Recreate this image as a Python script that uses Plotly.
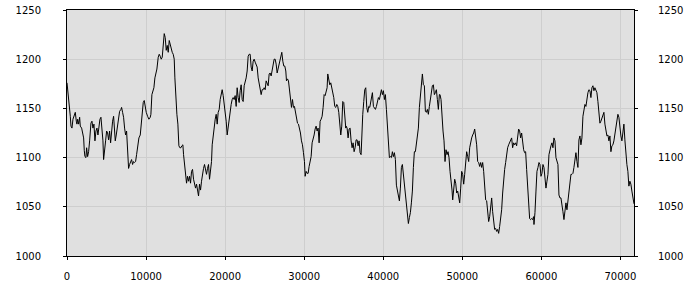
import plotly.graph_objects as go

x_vals = [
    0, 165, 291, 417, 502, 628, 754, 923, 1049, 1176, 1260, 1344, 1471, 1597, 1681, 1850, 1976, 2103, 2187, 2271,
    2397, 2482, 2608, 2734, 2861, 3029, 3156, 3282, 3409, 3535, 3661, 3788, 3914, 4041, 4167, 4293, 4420, 4546, 4630, 4757,
    4883, 5010, 5136, 5262, 5389, 5515, 5641, 5768, 5894, 5979, 6105, 6231, 6400, 6526, 6653, 6821, 6905, 7032, 7158, 7285,
    7411, 7537, 7664, 7790, 7917, 8043, 8169, 8296, 8422, 8549, 8675, 8801, 8928, 9096, 9265, 9391, 9518, 9644, 9770, 9897,
    10023, 10192, 10360, 10529, 10613, 10739, 10866, 10992, 11118, 11245, 11371,
    11540, 11666, 11793, 11919, 12046, 12172, 12298, 12425, 12551, 12678, 12804, 12930, 13057, 13183, 13309, 13436, 13562, 13647, 13773, 13899,
    14026, 14152, 14278, 14405, 14531, 14658, 14742, 14868, 14995, 15121, 15247, 15374, 15500, 15627, 15753, 15879, 16006, 16132, 16259, 16385,
    16511, 16638, 16764, 16891, 17017, 17143, 17270, 17396, 17522, 17649, 17775, 17902, 18028, 18154, 18281, 18365, 18491, 18618, 18744, 18871,
    18997, 19123, 19250, 19376, 19503, 19629, 19755, 19882, 20008, 20135, 20261, 20387, 20514, 20640, 20766, 20893, 21019, 21146, 21272, 21398,
    21525, 21651, 21778, 21904, 22030, 22157, 22283, 22410, 22536, 22662, 22789, 22915, 23041, 23168, 23294,
    23422, 23548, 23675, 23801, 23928, 24054, 24180, 24307, 24433, 24560, 24686, 24812, 24939, 25065, 25191, 25318, 25444, 25571, 25697, 25823,
    25950, 26076, 26203, 26329, 26455, 26582, 26708, 26835, 26961, 27087, 27172, 27298, 27424, 27551, 27677, 27761, 27888, 28014, 28141, 28267,
    28393, 28520, 28646, 28772, 28899, 29025, 29152, 29278, 29404, 29531, 29657, 29784, 29910, 30036, 30121, 30247, 30373, 30500, 30626, 30753,
    30879, 31005, 31132, 31258, 31385, 31511, 31637, 31764, 31890, 32016, 32143, 32269, 32396, 32522, 32648, 32775, 32901, 32985, 33112, 33238,
    33365, 33491, 33617, 33744, 33870, 33997, 34123, 34249, 34376, 34502, 34629, 34755, 34881, 35008, 35134, 35261,
    35304, 35430, 35557, 35683, 35810, 35936, 36062, 36189, 36315, 36442, 36568, 36694, 36821, 36947, 37073, 37200, 37284, 37411, 37537, 37663,
    37790, 37916, 38042, 38169, 38295, 38422, 38548, 38632, 38759, 38885, 39011, 39138, 39264, 39391, 39517, 39643, 39770, 39896, 40023, 40149,
    40275, 40402, 40528, 40655, 40781, 40907, 41034, 41160, 41286, 41413, 41539, 41666, 41792, 41918, 42045, 42171, 42298, 42424, 42550, 42677,
    42803, 42929, 43056, 43182, 43309, 43435, 43561, 43688, 43814, 43941, 44067, 44193, 44320, 44446, 44573, 44699, 44825, 44952, 45078, 45205,
    45331, 45457, 45584, 45710, 45836, 45963, 46089, 46216, 46342, 46468, 46595, 46721, 46848, 46974, 47100,
    47185, 47311, 47438, 47564, 47691, 47817, 47943, 48070, 48196, 48323, 48449, 48575, 48702, 48786, 48912, 49039, 49165, 49292, 49418, 49544,
    49671, 49797, 49924, 50050, 50176, 50303, 50429, 50555, 50682, 50808, 50935, 51061, 51187, 51314, 51440, 51567, 51693, 51819, 51946, 52072,
    52198, 52325, 52451, 52578, 52704, 52830, 52957, 53083, 53210, 53336, 53462, 53589, 53715, 53841, 53968, 54094, 54221, 54347, 54473, 54600,
    54726, 54853, 54979, 55105, 55232, 55358, 55485, 55611, 55737, 55864, 55990, 56116, 56243, 56369, 56496, 56622, 56748, 56875, 57001, 57128,
    57254, 57380, 57507, 57633, 57760, 57886, 58012, 58139, 58265, 58392, 58518, 58644, 58771, 58897, 59024,
    59067, 59193, 59320, 59446, 59573, 59699, 59825, 59952, 60078, 60204, 60331, 60457, 60584, 60710, 60836, 60963, 61089, 61216, 61342, 61468,
    61595, 61721, 61847, 61974, 62100, 62227, 62353, 62479, 62606, 62732, 62859, 62985, 63111, 63238, 63364, 63491, 63617, 63743, 63870, 63996,
    64122, 64249, 64375, 64502, 64628, 64754, 64881, 65007, 65134, 65260, 65386, 65513, 65639, 65765, 65892, 66018, 66145, 66271, 66397, 66524,
    66650, 66777, 66903, 67029, 67156, 67282, 67408, 67535, 67661, 67788, 67914, 68040, 68167, 68293, 68420, 68546, 68672, 68799, 68925, 69052,
    69178, 69304, 69431, 69557, 69683, 69810, 69936, 70063, 70189, 70315, 70442, 70568, 70695, 70821, 70947, 71074, 71200, 71326, 71453, 71579,
    71720,
]

y_vals = [
    1176, 1164, 1151, 1142, 1132, 1130, 1139, 1145, 1146, 1137, 1134, 1139, 1134, 1141, 1132, 1130, 1125, 1120, 1107, 1101,
    1100, 1110, 1101, 1106, 1117, 1135, 1137, 1130, 1134, 1117, 1127, 1130, 1123, 1134, 1139, 1141, 1129, 1117, 1098, 1105,
    1117, 1127, 1125, 1118, 1127, 1115, 1130, 1137, 1142, 1127, 1117, 1123, 1134, 1144, 1147, 1149, 1151, 1146, 1141, 1130,
    1123, 1127, 1113, 1089, 1093, 1096, 1098, 1093, 1096, 1095, 1096, 1103, 1113, 1120, 1123, 1134, 1147, 1156, 1158, 1151,
    1146, 1142, 1139, 1141, 1144, 1164, 1168, 1171, 1181, 1185, 1190,
    1202, 1205, 1203, 1200, 1202, 1212, 1226, 1222, 1209, 1214, 1207, 1219, 1215, 1209, 1207, 1205, 1200, 1181, 1159, 1144,
    1134, 1112, 1110, 1110, 1112, 1113, 1103, 1095, 1088, 1074, 1081, 1076, 1081, 1074, 1086, 1088, 1078, 1074, 1069, 1073,
    1066, 1061, 1073, 1067, 1076, 1086, 1089, 1093, 1088, 1083, 1089, 1093, 1078, 1086, 1096, 1113, 1122, 1134, 1139, 1144,
    1134, 1146, 1149, 1159, 1166, 1169, 1163, 1156, 1146, 1137, 1123, 1132, 1141, 1149, 1154, 1159, 1161, 1159, 1163, 1152,
    1171, 1161, 1156, 1168, 1174, 1159, 1157, 1173, 1176, 1181, 1188, 1203, 1205, 1205, 1192,
    1188, 1198, 1200, 1197, 1193, 1192, 1181, 1174, 1166, 1164, 1169, 1169, 1171, 1169, 1178, 1176, 1173, 1185, 1186, 1183,
    1190, 1195, 1200, 1200, 1195, 1186, 1190, 1195, 1200, 1203, 1207, 1198, 1193, 1193, 1188, 1178, 1180, 1178, 1166, 1156,
    1151, 1159, 1151, 1152, 1146, 1137, 1135, 1134, 1130, 1125, 1117, 1113, 1105, 1096, 1081, 1086, 1084, 1084, 1091, 1098,
    1101, 1115, 1118, 1123, 1129, 1132, 1127, 1130, 1115, 1137, 1139, 1142, 1151, 1164, 1163, 1166, 1171, 1185, 1181, 1174,
    1176, 1171, 1169, 1161, 1152, 1151, 1154, 1152, 1146, 1132, 1123, 1132, 1157, 1156, 1141, 1130,
    1132, 1130, 1120, 1129, 1130, 1117, 1110, 1115, 1106, 1110, 1118, 1118, 1112, 1117, 1105, 1103, 1127, 1144, 1157, 1169,
    1171, 1151, 1146, 1152, 1151, 1157, 1159, 1166, 1152, 1151, 1149, 1152, 1156, 1161, 1159, 1166, 1169, 1164, 1168, 1159,
    1164, 1149, 1134, 1120, 1100, 1101, 1100, 1106, 1101, 1105, 1098, 1072, 1066, 1061, 1056, 1069, 1090, 1093, 1083, 1073,
    1066, 1056, 1049, 1033, 1039, 1044, 1054, 1066, 1090, 1106, 1106, 1115, 1122, 1130, 1151, 1164, 1174, 1185, 1174, 1173,
    1147, 1146, 1149, 1144, 1152, 1161, 1168, 1173, 1174, 1164, 1166, 1169, 1159, 1149, 1164,
    1164, 1159, 1135, 1127, 1117, 1096, 1108, 1103, 1106, 1100, 1086, 1079, 1067, 1057, 1072, 1078, 1074, 1064, 1066, 1059,
    1054, 1069, 1086, 1083, 1073, 1083, 1100, 1106, 1101, 1096, 1110, 1117, 1120, 1123, 1125, 1129, 1123, 1113, 1096, 1095,
    1091, 1095, 1090, 1095, 1086, 1069, 1057, 1056, 1045, 1035, 1040, 1050, 1059, 1045, 1032, 1027, 1028, 1025, 1027, 1023,
    1030, 1037, 1047, 1064, 1078, 1088, 1095, 1105, 1110, 1113, 1115, 1117, 1120, 1110, 1115, 1113, 1115, 1112, 1120, 1129,
    1127, 1120, 1125, 1115, 1108, 1105, 1106, 1088, 1069, 1059, 1038, 1037, 1038, 1037, 1040,
    1032, 1044, 1066, 1086, 1090, 1095, 1093, 1081, 1084, 1093, 1090, 1079, 1069, 1076, 1083, 1103, 1110, 1112, 1115, 1110,
    1120, 1117, 1100, 1096, 1093, 1062, 1059, 1059, 1049, 1045, 1037, 1044, 1054, 1047, 1057, 1062, 1073, 1083, 1083, 1084,
    1090, 1101, 1105, 1096, 1090, 1118, 1122, 1113, 1120, 1142, 1151, 1154, 1152, 1161, 1166, 1169, 1168, 1161, 1171, 1173,
    1168, 1171, 1169, 1166, 1157, 1147, 1135, 1137, 1141, 1142, 1146, 1134, 1125, 1122, 1123, 1117, 1122, 1106, 1112, 1113,
    1117, 1125, 1130, 1142, 1144, 1141, 1130, 1122, 1117, 1127, 1134, 1118, 1101, 1093, 1086, 1071, 1076, 1073, 1066, 1061,
    1053,
]

x_ticks = [0, 10000, 20000, 30000, 40000, 50000, 60000, 70000]
y_ticks = [1000, 1050, 1100, 1150, 1200, 1250]

x_range = [0, 71720]
y_range = [1000, 1250]

font = dict(family="DejaVu Sans", size=10, color="#000000")
grid = "#cecece"

fig = go.Figure()
fig.add_trace(go.Scatter(x=x_vals, y=y_vals, mode="lines",
                         line=dict(color="#000000", width=1), showlegend=False))
fig.add_trace(go.Scatter(x=x_vals[:1], y=y_vals[:1], mode="lines", yaxis="y2",
                         line=dict(color="rgba(0,0,0,0)", width=0), showlegend=False,
                         hoverinfo="skip"))

fig.update_layout(
    width=700, height=300,
    margin=dict(l=67, r=66, t=10, b=44, autoexpand=False),
    paper_bgcolor="#ffffff",
    plot_bgcolor="#e0e0e0",
    font=font,
    xaxis=dict(range=x_range, tickvals=x_ticks, ticktext=[str(v) for v in x_ticks],
               showgrid=True, gridcolor=grid, gridwidth=1, zeroline=False,
               showline=True, linecolor="#000000", linewidth=1, mirror=True,
               ticks="outside", ticklen=3, tickcolor="#000000", tickfont=font,
               ticklabelstandoff=8, automargin=False),
    yaxis=dict(range=y_range, tickvals=y_ticks, ticktext=[str(v) for v in y_ticks],
               showgrid=True, gridcolor=grid, gridwidth=1, zeroline=False,
               showline=True, linecolor="#000000", linewidth=1, mirror=True,
               ticks="outside", ticklen=3, tickcolor="#000000", tickfont=font,
               ticklabelstandoff=20, automargin=False),
    yaxis2=dict(range=y_range, tickvals=y_ticks, ticktext=[str(v) for v in y_ticks],
                overlaying="y", side="right", showgrid=False, zeroline=False,
                showline=False, ticks="outside", ticklen=3, tickcolor="#000000",
                tickfont=font, ticklabelstandoff=18, automargin=False),
)

fig.write_html("out.html")
